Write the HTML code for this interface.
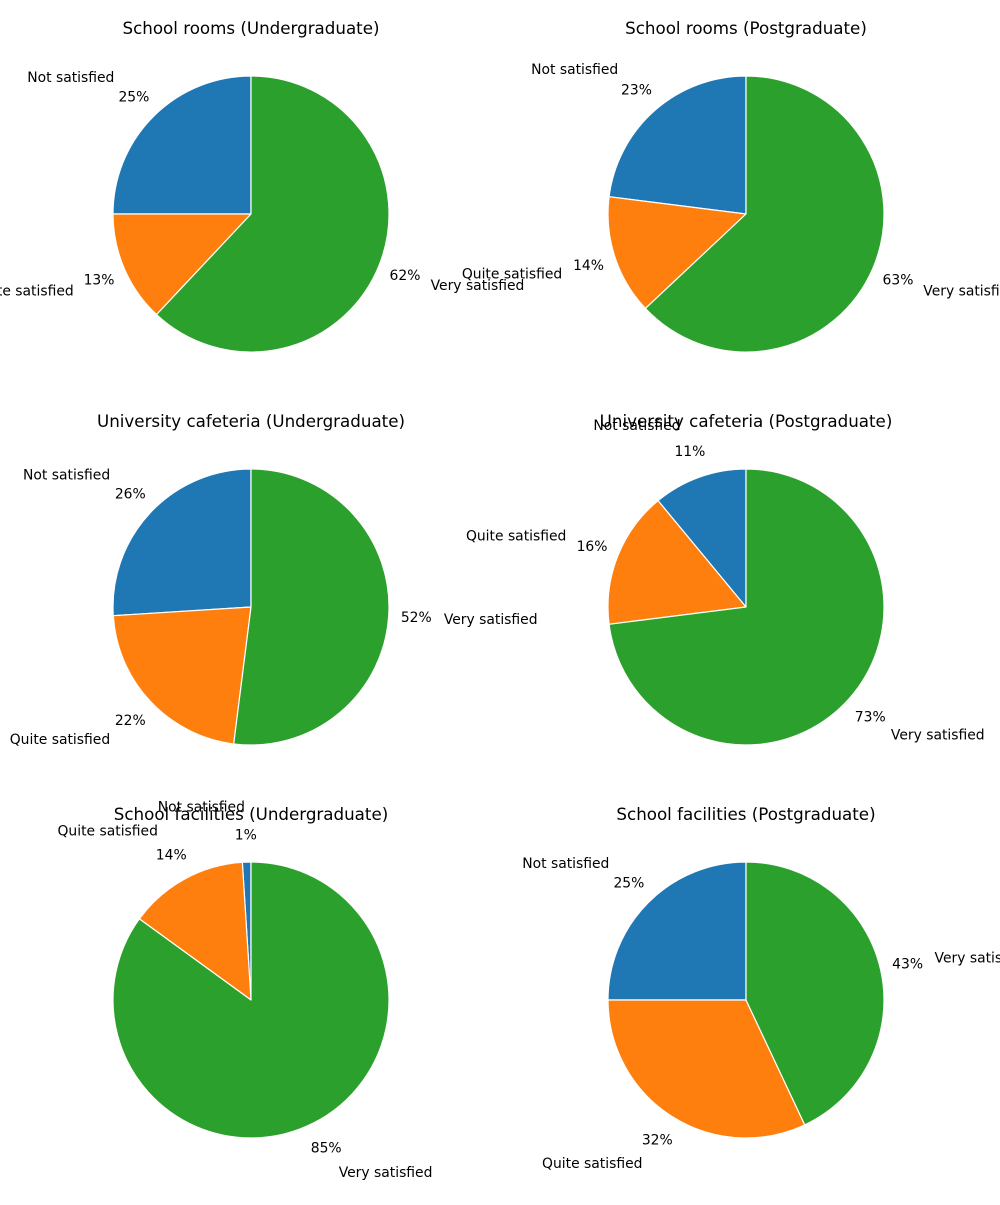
<!DOCTYPE html>
<html><head><meta charset="utf-8"><style>
body{margin:0;background:#fff}
svg text{font-family:"DejaVu Sans","Liberation Sans",sans-serif;fill:#000}
</style></head><body>
<svg id="c" width="1000" height="1200" viewBox="0 0 1000 1200" xmlns="http://www.w3.org/2000/svg"></svg>
<script>
const titles = ["School rooms (Undergraduate)","School rooms (Postgraduate)","University cafeteria (Undergraduate)","University cafeteria (Postgraduate)","School facilities (Undergraduate)","School facilities (Postgraduate)"];
const categories = ["Not satisfied","Quite satisfied","Very satisfied"];
const notSatisfied = [25,23,26,11,1,25];
const quiteSatisfied = [13,14,22,16,14,32];
const verySatisfied = [62,63,52,73,85,43];
const colors = ["#1f77b4","#ff7f0e","#2ca02c"];
const svg = document.getElementById('c');
const NS = "http://www.w3.org/2000/svg";
const R = 138;
function mk(tag, attrs, parent){const e=document.createElementNS(NS,tag);for(const k in attrs)e.setAttribute(k,attrs[k]);(parent||svg).appendChild(e);return e;}
for(let i=0;i<6;i++){
  const cx = i%2===0 ? 251 : 746;
  const cy = 214 + Math.floor(i/2)*393;
  const g = mk('g',{});
  
  
  const vals=[notSatisfied[i],quiteSatisfied[i],verySatisfied[i]];
  const total=vals.reduce((a,b)=>a+b,0);
  let a0=90;
  const texts=[];
  vals.forEach((v,j)=>{
    const sweep=v/total*360, a1=a0+sweep;
    const r0=a0*Math.PI/180, r1=a1*Math.PI/180;
    const x0=cx+R*Math.cos(r0), y0=cy-R*Math.sin(r0);
    const x1=cx+R*Math.cos(r1), y1=cy-R*Math.sin(r1);
    const large=sweep>180?1:0;
    const p=mk('path',{d:`M${cx},${cy} L${x0},${y0} A${R},${R} 0 ${large} 0 ${x1},${y1} Z`,fill:colors[j],stroke:'#fff','stroke-width':1.2,'stroke-linejoin':'round'},g);
    
    
    const am=(a0+a1)/2*Math.PI/180, c=Math.cos(am), s=Math.sin(am);
    texts.push([cx+1.4*R*c, cy-1.4*R*s, categories[j], c>=0?'start':'end', 'slice-label']);
    texts.push([cx+1.2*R*c, cy-1.2*R*s, Math.round(v/total*100)+'%', 'middle', 'percent-label']);
    a0=a1;
  });
  const t=mk('text',{x:cx,y:cy-180,'text-anchor':'middle','font-size':16.7});
  t.textContent=titles[i];
  
  
  texts.forEach(tt=>{
    const e=mk('text',{x:tt[0],y:tt[1]+4.8,'text-anchor':tt[3],'font-size':13.9},g);
    e.textContent=tt[2];
    
    
  });
}
</script>
</body></html>
